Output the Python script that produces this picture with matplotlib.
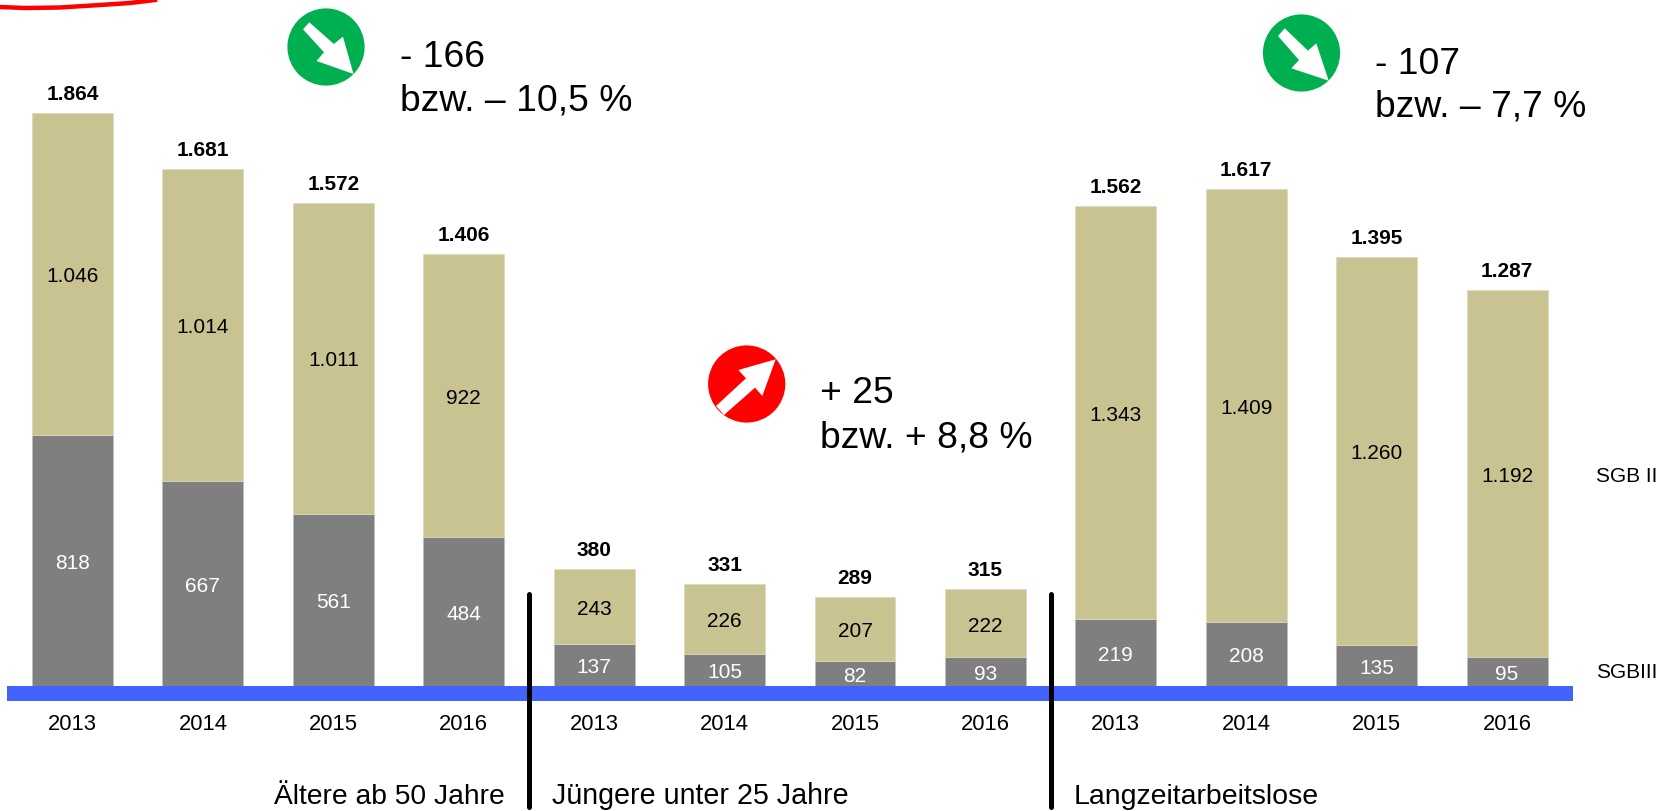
import matplotlib
matplotlib.use('Agg')
import matplotlib.pyplot as plt
from matplotlib.patches import Circle, Polygon

plt.rcParams['font.family'] = ['Liberation Sans', 'DejaVu Sans']

W, H = 1663, 811
BASE_Y = 686           # pixel row of the bar baseline
PX_PER_UNIT = 0.3074
STEP = 130.42          # pixels between neighbouring bars

years = ['2013', '2014', '2015', '2016'] * 3
sgb3 = [818, 667, 561, 484, 137, 105, 82, 93, 219, 208, 135, 95]
sgb2 = [1046, 1014, 1011, 922, 243, 226, 207, 222, 1343, 1409, 1260, 1192]
totals = [1864, 1681, 1572, 1406, 380, 331, 289, 315, 1562, 1617, 1395, 1287]
sgb3_labels = ['818', '667', '561', '484', '137', '105', '82', '93', '219', '208', '135', '95']
sgb2_labels = ['1.046', '1.014', '1.011', '922', '243', '226', '207', '222', '1.343', '1.409', '1.260', '1.192']
total_labels = ['1.864', '1.681', '1.572', '1.406', '380', '331', '289', '315', '1.562', '1.617', '1.395', '1.287']

KHAKI = '#C8C391'
GREY = '#7F7F7F'
BLUE = '#4363FF'
GREEN = '#00B050'
RED = '#FF0000'

fig = plt.figure(figsize=(W / 100, H / 100), dpi=100, facecolor='white')

# bars: axes bottom edge sits on the baseline
ax = fig.add_axes([0, (H - BASE_Y) / H, 1, BASE_Y / H])
xpos = list(range(12))
ax.bar(xpos, sgb3, width=0.62, color=GREY, edgecolor='#BDBDBD', linewidth=0.5)
ax.bar(xpos, sgb2, width=0.62, bottom=sgb3, color=KHAKI, edgecolor='#DDDABC', linewidth=0.5)
ax.set_xlim(-72.5 / STEP, (W - 72.5) / STEP)
ax.set_ylim(0, BASE_Y / PX_PER_UNIT)
ax.set_xticks(xpos)
ax.set_xticklabels(years, fontsize=15.8)
ax.tick_params(axis='x', length=0, pad=20.5)
ax.set_yticks([])
for s in ax.spines.values():
    s.set_visible(False)

for i in xpos:
    ax.text(i, sgb3[i] / 2 - 9, sgb3_labels[i], ha='center', va='center', fontsize=15, color='white')
    ax.text(i, sgb3[i] + sgb2[i] / 2 - 9, sgb2_labels[i], ha='center', va='center', fontsize=15, color='black')
    ax.text(i, totals[i] + 29, total_labels[i], ha='center', va='bottom', fontsize=15, fontweight='bold', color='black')

# overlay in pixel coordinates for band, dividers and callouts
ov = fig.add_axes([0, 0, 1, 1], zorder=5)
ov.set_xlim(0, W)
ov.set_ylim(H, 0)
ov.axis('off')
ov.patch.set_alpha(0)

ov.fill_between([7, 1573], BASE_Y, 700.5, color=BLUE, linewidth=0)

for x in [528.5, 1051]:
    ov.plot([x, x], [594, 807], color='black', linewidth=3.6, solid_capstyle='round')

ov.text(505, 804, 'Ältere ab 50 Jahre', ha='right', va='baseline', fontsize=20.3)
ov.text(552, 804, 'Jüngere unter 25 Jahre', ha='left', va='baseline', fontsize=20.6)
ov.text(1074, 804, 'Langzeitarbeitslose', ha='left', va='baseline', fontsize=20.5)

ov.text(1596, 477, 'SGB II', ha='left', va='center', fontsize=15)
ov.text(1596, 673, 'SGBIII', ha='left', va='center', fontsize=15)

# red arc cut off at the top left corner
arc_x = [0, 25, 60, 100, 130, 155]
arc_y = [7, 8, 7.5, 5, 3, 0]
ov.plot(arc_x, arc_y, color=RED, linewidth=3.2)

callouts = [
    ((326, 47), GREEN,
     [(309.3, 22.3), (333.8, 44), (343, 36.7), (353.5, 74), (316.5, 61), (324, 52.3), (303, 29.3)],
     400, 67, 110.5, '- 166', 'bzw. – 10,5 %'),
    ((1301.5, 53), GREEN,
     [(1284.7, 28.3), (1308, 50.7), (1316.3, 43.3), (1328.7, 80.7), (1291.3, 68.3), (1299, 60), (1278, 36)],
     1375, 73.5, 116.5, '- 107', 'bzw. – 7,7 %'),
    ((746.7, 384), RED,
     [(716, 406), (724, 415), (755, 387.7), (762.3, 396), (775.7, 359.3), (738.3, 370), (746, 378.3)],
     820.5, 403, 447.5, '+ 25', 'bzw. + 8,8 %'),
]
for center, col, arrow, tx, y1, y2, line1, line2 in callouts:
    ov.add_patch(Circle(center, 38.6, color=col, linewidth=0))
    ov.add_patch(Polygon(arrow, closed=True, color='white', linewidth=0))
    ov.text(tx, y1, line1, ha='left', va='baseline', fontsize=26.8)
    ov.text(tx, y2, line2, ha='left', va='baseline', fontsize=26.8)

fig.savefig('out.png', dpi=100)
